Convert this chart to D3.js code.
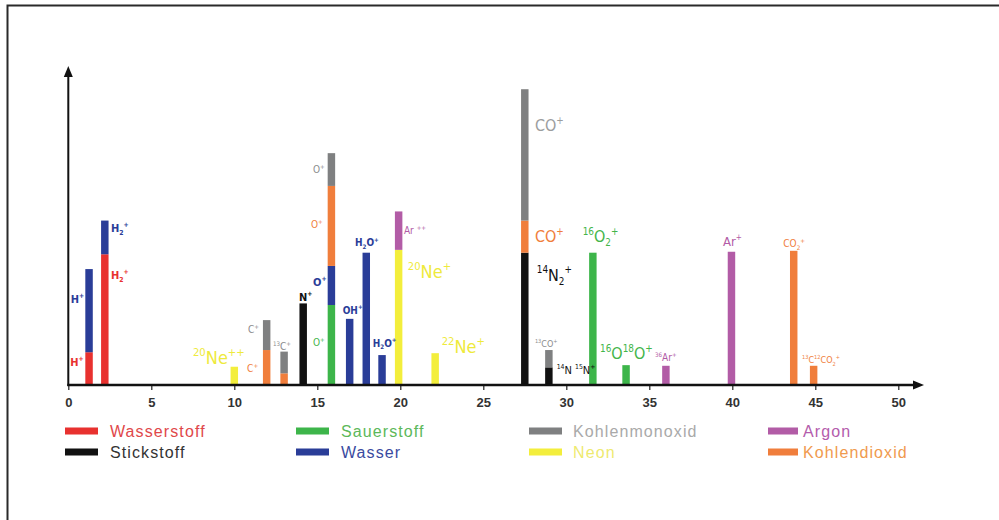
<!DOCTYPE html>
<html>
<head>
<meta charset="utf-8">
<script src="https://cdn.jsdelivr.net/npm/d3@7/dist/d3.min.js"></script>
<style>
  html, body { margin: 0; padding: 0; background: #fff; }
  svg { display: block; }
</style>
</head>
<body>
<svg id="chart" width="999" height="520"></svg>
<script>
// Mass spectrum of residual gases: peak positions (m/z as drawn) and stacked intensities
const masses = [1.25, 2.2, 10.0, 11.95, 13.0, 14.15, 15.85, 16.95, 17.95, 18.9, 19.9, 22.1, 27.5, 28.95, 31.6, 33.6, 36.0, 39.95, 43.7, 44.9];

const wasserstoff   = [10.4, 41.5, 0, 0, 0, 0, 0, 0, 0, 0, 0, 0, 0, 0, 0, 0, 0, 0, 0, 0];
const stickstoff    = [0, 0, 0, 0, 0, 25.9, 0, 0, 0, 0, 0, 0, 42.0, 5.6, 0, 0, 0, 0, 0, 0];
const sauerstoff    = [0, 0, 0, 0, 0, 0, 25.4, 0, 0, 0, 0, 0, 0, 0, 42.0, 6.3, 0, 0, 0, 0];
const neon          = [0, 0, 5.8, 0, 0, 0, 0, 0, 0, 0, 42.9, 10.1, 0, 0, 0, 0, 0, 0, 0, 0];
const wasser        = [26.4, 10.7, 0, 0, 0, 0, 12.4, 21.0, 42.0, 9.5, 0, 0, 0, 0, 0, 0, 0, 0, 0, 0];
const kohlendioxid  = [0, 0, 0, 11.1, 3.7, 0, 25.4, 0, 0, 0, 0, 0, 10.2, 0, 0, 0, 0, 0, 42.6, 6.1];
const kohlenmonoxid = [0, 0, 0, 9.5, 6.9, 0, 10.4, 0, 0, 0, 0, 0, 41.7, 5.5, 0, 0, 0, 0, 0, 0];
const argon         = [0, 0, 0, 0, 0, 0, 0, 0, 0, 0, 12.2, 0, 0, 0, 0, 0, 6.1, 42.3, 0, 0];

// Stacking order, bottom to top
const seriesKeys = ["wasserstoff", "stickstoff", "sauerstoff", "neon", "wasser", "kohlendioxid", "kohlenmonoxid", "argon"];
const seriesValues = { wasserstoff, stickstoff, sauerstoff, neon, wasser, kohlendioxid, kohlenmonoxid, argon };
const seriesColors = {
  wasserstoff: "#e8312f", stickstoff: "#111111", sauerstoff: "#3db54a", neon: "#f3ee3c",
  wasser: "#2a3d98", kohlendioxid: "#f07e3c", kohlenmonoxid: "#7f8081", argon: "#b25ca6"
};

// Legend (column-major)
const legendNames = ["Wasserstoff", "Stickstoff", "Sauerstoff", "Wasser", "Kohlenmonoxid", "Neon", "Argon", "Kohlendioxid"];
const legendKeys  = ["wasserstoff", "stickstoff", "sauerstoff", "wasser", "kohlenmonoxid", "neon", "argon", "kohlendioxid"];
const legendTextColors = {
  wasserstoff: "#e0474a", stickstoff: "#333333", sauerstoff: "#5cb85a", wasser: "#3a4aa0",
  kohlenmonoxid: "#a9a9a9", neon: "#eeea70", argon: "#b45cac", kohlendioxid: "#f09a4e"
};

const xTicks = [0, 5, 10, 15, 20, 25, 30, 35, 40, 45, 50];

// Ion labels: ^{} superscript, _{} subscript; placed at (mass, intensity)
const ionLabels = [
  { t: "H^{+}", key: "wasser", m: 0.95, v: 27.2, size: 11, anchor: "end", bold: true },
  { t: "H^{+}", key: "wasserstoff", m: 0.92, v: 7.4, size: 11, anchor: "end", bold: true },
  { t: "H_{2}^{+}", key: "wasser", m: 2.57, v: 49.7, size: 11, bold: true },
  { t: "H_{2}^{+}", key: "wasserstoff", m: 2.57, v: 34.9, size: 11, bold: true },
  { t: "^{20}Ne^{++}", key: "neon", m: 7.51, v: 8.6, size: 18 },
  { t: "C^{+}", key: "kohlenmonoxid", m: 10.83, v: 17.5, size: 10 },
  { t: "C^{+}", key: "kohlendioxid", m: 10.77, v: 5.1, size: 10 },
  { t: "^{13}C^{+}", key: "kohlenmonoxid", m: 12.33, v: 12.2, size: 10 },
  { t: "N^{+}", key: "stickstoff", m: 13.9, v: 28.0, size: 11, bold: true },
  { t: "O^{+}", key: "kohlenmonoxid", m: 14.74, v: 68.3, size: 10 },
  { t: "O^{+}", key: "kohlendioxid", m: 14.62, v: 50.8, size: 10 },
  { t: "O^{+}", key: "wasser", m: 14.74, v: 32.8, size: 11, bold: true },
  { t: "O^{+}", key: "sauerstoff", m: 14.74, v: 13.4, size: 10 },
  { t: "OH^{+}", key: "wasser", m: 16.53, v: 23.8, size: 10, bold: true },
  { t: "H_{2}O^{+}", key: "wasser", m: 17.27, v: 45.1, size: 10, bold: true },
  { t: "H_{2}O^{+}", key: "wasser", m: 18.34, v: 13.3, size: 10, bold: true },
  { t: "Ar ^{++}", key: "argon", m: 20.22, v: 49.0, size: 10 },
  { t: "^{20}Ne^{+}", key: "neon", m: 20.45, v: 36.0, size: 18 },
  { t: "^{22}Ne^{+}", key: "neon", m: 22.49, v: 12.2, size: 18 },
  { t: "CO^{+}", key: "kohlenmonoxid", m: 28.11, v: 82.5, size: 16, light: true },
  { t: "CO^{+}", key: "kohlendioxid", m: 28.11, v: 47.1, size: 16 },
  { t: "^{14}N_{2}^{+}", key: "stickstoff", m: 28.22, v: 34.9, size: 16 },
  { t: "^{13}CO^{+}", key: "kohlenmonoxid", m: 28.11, v: 13.2, size: 9 },
  { t: "^{14}N ^{15}N^{+}", key: "stickstoff", m: 29.42, v: 4.8, size: 11 },
  { t: "^{16}O_{2}^{+}", key: "sauerstoff", m: 30.99, v: 47.1, size: 16 },
  { t: "^{16}O^{18}O^{+}", key: "sauerstoff", m: 32.03, v: 10.1, size: 16 },
  { t: "^{36}Ar^{+}", key: "argon", m: 35.34, v: 8.6, size: 10 },
  { t: "Ar^{+}", key: "argon", m: 39.44, v: 45.5, size: 13 },
  { t: "CO_{2}^{+}", key: "kohlendioxid", m: 43.07, v: 44.8, size: 10 },
  { t: "^{13}C^{12}CO_{2}^{+}", key: "kohlendioxid", m: 44.2, v: 7.9, size: 9 }
];
const labelColors = {
  wasserstoff: "#e8312f", stickstoff: "#111111", sauerstoff: "#43b54a", neon: "#eeea3c",
  wasser: "#2a3d98", kohlendioxid: "#f07e3c", kohlenmonoxid: "#8a8b8c", argon: "#b25ca6"
};

const svg = d3.select("#chart");

// Outer frame
svg.append("rect")
  .attr("x", 7.5).attr("y", 5.5)
  .attr("width", 1100).attr("height", 600)
  .attr("fill", "none").attr("stroke", "#2a2a2a").attr("stroke-width", 2);

const x = d3.scaleLinear().domain([0, 50]).range([68.3, 898.3]);
const y = d3.scaleLinear().domain([0, 100]).range([385, 70]);
const barW = x(0.45) - x(0);

// Stacked bars
const rows = masses.map((m, i) => {
  const r = { m };
  seriesKeys.forEach(k => r[k] = seriesValues[k][i]);
  return r;
});
const stacked = d3.stack().keys(seriesKeys)(rows);

const gBars = svg.append("g");
stacked.forEach(layer => {
  gBars.append("g")
    .attr("fill", seriesColors[layer.key])
    .selectAll("rect")
    .data(layer.filter(d => d[1] - d[0] > 0))
    .join("rect")
    .attr("x", d => x(d.data.m) - barW / 2)
    .attr("width", barW)
    .attr("y", d => y(d[1]))
    .attr("height", d => y(d[0]) - y(d[1]));
});

// Axes
const xAxis = d3.axisBottom(x).tickValues(xTicks).tickSize(5).tickPadding(8).tickSizeOuter(0);
const gx = svg.append("g").attr("transform", `translate(0,${y(0)})`).call(xAxis);
gx.select(".domain").remove();
gx.selectAll(".tick line").attr("stroke", "#222").attr("stroke-width", 1.2);
gx.selectAll(".tick text")
  .attr("font-family", "'Liberation Sans', Arial, sans-serif")
  .attr("font-size", 13).attr("font-weight", "bold").attr("fill", "#333");

const axisEndX = 924, axisTopY = 66;
svg.append("line")
  .attr("x1", x(0) - 1).attr("x2", axisEndX - 8)
  .attr("y1", y(0)).attr("y2", y(0))
  .attr("stroke", "#111").attr("stroke-width", 2.5);
svg.append("path")
  .attr("d", `M${axisEndX},${y(0)} L${axisEndX - 11},${y(0) - 4.5} L${axisEndX - 11},${y(0) + 4.5} Z`)
  .attr("fill", "#111");
svg.append("line")
  .attr("x1", x(0)).attr("x2", x(0))
  .attr("y1", y(0) + 1).attr("y2", axisTopY + 8)
  .attr("stroke", "#111").attr("stroke-width", 2);
svg.append("path")
  .attr("d", `M${x(0)},${axisTopY} L${x(0) - 4.5},${axisTopY + 11} L${x(0) + 4.5},${axisTopY + 11} Z`)
  .attr("fill", "#111");

// Ion labels with super/subscripts
function writeRich(textSel, str, size) {
  const re = /(\^\{[^}]*\}|_\{[^}]*\}|[^^_]+)/g;
  const parts = str.match(re) || [];
  let shift = 0;
  parts.forEach(p => {
    let kind = "n", content = p;
    if (p.startsWith("^{")) { kind = "sup"; content = p.slice(2, -1); }
    else if (p.startsWith("_{")) { kind = "sub"; content = p.slice(2, -1); }
    const target = kind === "sup" ? -0.45 * size : kind === "sub" ? 0.25 * size : 0;
    textSel.append("tspan")
      .attr("dy", (target - shift).toFixed(2))
      .attr("font-size", kind === "n" ? size : Math.round(size * 0.62 * 10) / 10)
      .text(content);
    shift = target;
  });
}

const gLabels = svg.append("g")
  .attr("font-family", "'Liberation Sans Narrow', 'Arial Narrow', 'DejaVu Sans Condensed', sans-serif");
ionLabels.forEach(l => {
  const t = gLabels.append("text")
    .attr("x", x(l.m)).attr("y", y(l.v) + l.size * 0.35)
    .attr("text-anchor", l.anchor || "start")
    .attr("font-size", l.size)
    .attr("font-weight", l.bold ? "bold" : "normal")
    .attr("fill", l.light ? "#9c9d9e" : labelColors[l.key]);
  writeRich(t, l.t, l.size);
});

// Legend
const legendCols = [65, 296, 529, 768];
const legendTextDx = [45, 45, 44, 35];
const legendRows = [431, 452];
const gLegend = svg.append("g");
legendNames.forEach((name, i) => {
  const col = Math.floor(i / 2), row = i % 2;
  const key = legendKeys[i];
  gLegend.append("rect")
    .attr("x", legendCols[col]).attr("y", legendRows[row] - 3.5)
    .attr("width", col === 3 ? 30 : 33).attr("height", 7)
    .attr("fill", seriesColors[key]);
  gLegend.append("text")
    .attr("x", legendCols[col] + legendTextDx[col]).attr("y", legendRows[row] + 6)
    .attr("font-family", "'Liberation Sans', Arial, sans-serif")
    .attr("font-size", 16).attr("letter-spacing", 1.1)
    .attr("fill", legendTextColors[key])
    .text(name);
});
</script>
</body>
</html>
